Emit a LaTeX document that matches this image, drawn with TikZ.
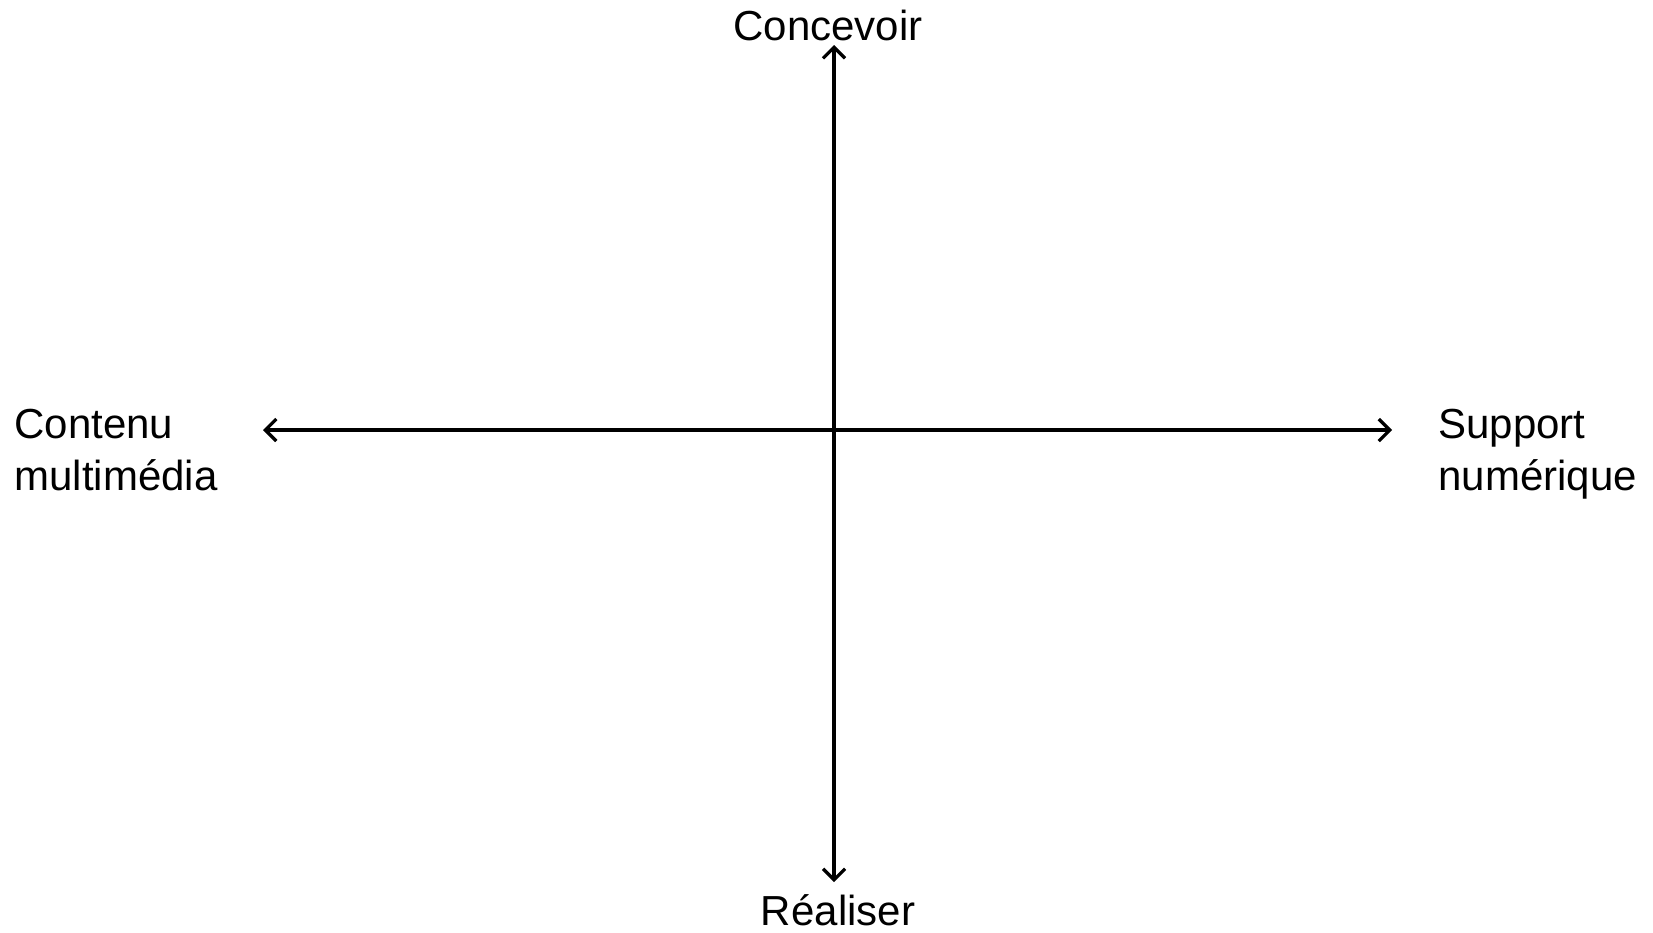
\documentclass[tikz,border=0pt]{standalone}
\usepackage{fontspec}
\setmainfont{Liberation Sans}
\usetikzlibrary{arrows.meta}
\tikzset{
  axisline/.style={line width=1.6pt, {Straight Barb[length=5.5pt,width=11pt,line width=1.6pt]}-{Straight Barb[length=5.5pt,width=11pt,line width=1.6pt]}},
  lbl/.style={inner sep=0pt, font=\fontsize{21}{26}\selectfont},
}
\begin{document}
\begin{tikzpicture}[x=0.5pt,y=-0.5pt]
\useasboundingbox (0,0) rectangle (1653,932);
\coordinate (top) at (834,45);
\coordinate (bot) at (834,882);
\coordinate (lft) at (263,430);
\coordinate (rgt) at (1392,430);
\node[lbl, anchor=base] (concevoir) at (828,40) {Concevoir};
\node[lbl, anchor=base] (realiser) at (838,925) {Réaliser};
\node[lbl, anchor=base west] (contenu) at (14,438) {\begin{tabular}[t]{@{}l@{}}Contenu\\multimédia\end{tabular}};
\node[lbl, anchor=base west] (support) at (1438,438) {\begin{tabular}[t]{@{}l@{}}Support\\numérique\end{tabular}};
\draw[axisline] (top) -- (bot);
\draw[axisline] (lft) -- (rgt);
\end{tikzpicture}
\end{document}
